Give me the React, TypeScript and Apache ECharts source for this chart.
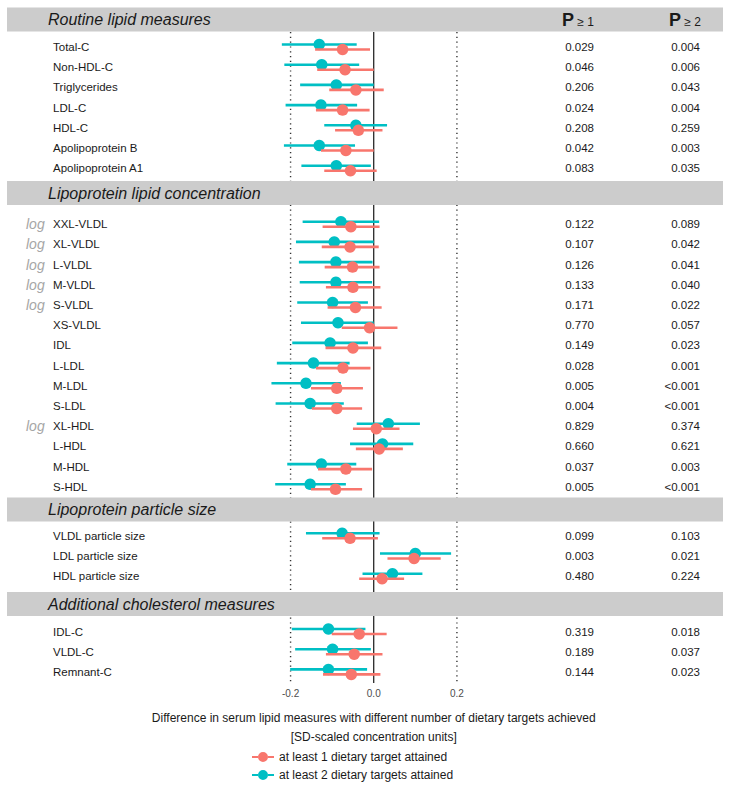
import React, { useEffect, useRef } from "react";
import * as echarts from "echarts";

// ---------- DATA ----------
const sectionTitles = [
  "Routine lipid measures",
  "Lipoprotein lipid concentration",
  "Lipoprotein particle size",
  "Additional cholesterol measures",
];
const seriesNames = ["at least 1 dietary target attained", "at least 2 dietary targets attained"];

// Routine lipid measures
const routineNames = ["Total-C", "Non-HDL-C", "Triglycerides", "LDL-C", "HDL-C", "Apolipoprotein B", "Apolipoprotein A1"];
const routineLog = [0, 0, 0, 0, 0, 0, 0];
const routineEst1 = [-0.075, -0.069, -0.043, -0.075, -0.037, -0.067, -0.056];
const routineLo1 = [-0.141, -0.136, -0.107, -0.139, -0.093, -0.127, -0.119];
const routineHi1 = [-0.009, 0.0, 0.024, -0.01, 0.021, 0.0, 0.007];
const routineEst2 = [-0.131, -0.125, -0.09, -0.127, -0.043, -0.131, -0.09];
const routineLo2 = [-0.221, -0.215, -0.177, -0.212, -0.119, -0.216, -0.174];
const routineHi2 = [-0.041, -0.035, 0.0, -0.04, 0.032, -0.045, -0.007];
const routineP1 = ["0.029", "0.046", "0.206", "0.024", "0.208", "0.042", "0.083"];
const routineP2 = ["0.004", "0.006", "0.043", "0.004", "0.259", "0.003", "0.035"];

// Lipoprotein lipid concentration
const lipoNames = ["XXL-VLDL", "XL-VLDL", "L-VLDL", "M-VLDL", "S-VLDL", "XS-VLDL", "IDL", "L-LDL", "M-LDL", "S-LDL", "XL-HDL", "L-HDL", "M-HDL", "S-HDL"];
const lipoLog = [1, 1, 1, 1, 1, 0, 0, 0, 0, 0, 1, 0, 0, 0];
const lipoEst1 = [-0.055, -0.057, -0.051, -0.05, -0.044, -0.01, -0.05, -0.074, -0.089, -0.089, 0.006, 0.013, -0.067, -0.092];
const lipoLo1 = [-0.123, -0.125, -0.118, -0.115, -0.111, -0.077, -0.116, -0.139, -0.151, -0.149, -0.05, -0.043, -0.134, -0.151];
const lipoHi1 = [0.014, 0.012, 0.014, 0.016, 0.019, 0.057, 0.018, -0.008, -0.026, -0.028, 0.062, 0.07, -0.004, -0.028];
const lipoEst2 = [-0.079, -0.095, -0.091, -0.091, -0.099, -0.086, -0.105, -0.145, -0.163, -0.153, 0.035, 0.021, -0.126, -0.153];
const lipoLo2 = [-0.171, -0.187, -0.18, -0.178, -0.184, -0.175, -0.196, -0.233, -0.246, -0.236, -0.041, -0.057, -0.208, -0.237];
const lipoHi2 = [0.013, 0.0, -0.003, -0.004, -0.014, 0.0, -0.014, -0.058, -0.079, -0.072, 0.111, 0.095, -0.042, -0.067];
const lipoP1 = ["0.122", "0.107", "0.126", "0.133", "0.171", "0.770", "0.149", "0.028", "0.005", "0.004", "0.829", "0.660", "0.037", "0.005"];
const lipoP2 = ["0.089", "0.042", "0.041", "0.040", "0.022", "0.057", "0.023", "0.001", "<0.001", "<0.001", "0.374", "0.621", "0.003", "<0.001"];

// Lipoprotein particle size
const sizeNames = ["VLDL particle size", "LDL particle size", "HDL particle size"];
const sizeLog = [0, 0, 0];
const sizeEst1 = [-0.057, 0.097, 0.02];
const sizeLo1 = [-0.124, 0.033, -0.035];
const sizeHi1 = [0.01, 0.161, 0.073];
const sizeEst2 = [-0.076, 0.1, 0.045];
const sizeLo2 = [-0.163, 0.015, -0.027];
const sizeHi2 = [0.014, 0.186, 0.117];
const sizeP1 = ["0.099", "0.003", "0.480"];
const sizeP2 = ["0.103", "0.021", "0.224"];

// Additional cholesterol measures
const addNames = ["IDL-C", "VLDL-C", "Remnant-C"];
const addLog = [0, 0, 0];
const addEst1 = [-0.035, -0.047, -0.054];
const addLo1 = [-0.101, -0.115, -0.122];
const addHi1 = [0.031, 0.021, 0.016];
const addEst2 = [-0.109, -0.099, -0.109];
const addLo2 = [-0.197, -0.189, -0.201];
const addHi2 = [-0.02, -0.007, -0.016];
const addP1 = ["0.319", "0.189", "0.144"];
const addP2 = ["0.018", "0.037", "0.023"];

const referenceLines = [-0.2, 0, 0.2];
const xTickLabels = ["-0.2", "0.0", "0.2"];

// ---------- LAYOUT ----------
const FONT = "'Liberation Sans', Arial, Helvetica, sans-serif";
const C1 = "#F8766D";
const C2 = "#00BFC4";
const XMIN = -0.4;
const XMAX = 0.4;
const GRID_LEFT = 207.4;
const GRID_RIGHT = 191.9;
const ROW = 20.2;
const firstRowY = [47, 224.2, 535.8, 631.5];
const bandY = [7.5, 181, 497.5, 592];
const BAND_H = 24;

const sections = [
  { names: routineNames, log: routineLog, e1: routineEst1, l1: routineLo1, h1: routineHi1, e2: routineEst2, l2: routineLo2, h2: routineHi2, p1: routineP1, p2: routineP2 },
  { names: lipoNames, log: lipoLog, e1: lipoEst1, l1: lipoLo1, h1: lipoHi1, e2: lipoEst2, l2: lipoLo2, h2: lipoHi2, p1: lipoP1, p2: lipoP2 },
  { names: sizeNames, log: sizeLog, e1: sizeEst1, l1: sizeLo1, h1: sizeHi1, e2: sizeEst2, l2: sizeLo2, h2: sizeHi2, p1: sizeP1, p2: sizeP2 },
  { names: addNames, log: addLog, e1: addEst1, l1: addLo1, h1: addHi1, e2: addEst2, l2: addLo2, h2: addHi2, p1: addP1, p2: addP2 },
];

const LEGEND_ICON =
  "path://M0,5L6,5L6,7L0,7Z M16,5L22,5L22,7L16,7Z M6,6A5,5,0,1,0,16,6A5,5,0,1,0,6,6Z";

function buildOption() {
  const grids: any[] = [];
  const xAxes: any[] = [];
  const yAxes: any[] = [];
  const series: any[] = [];

  const axisOff = { axisLine: { show: false }, axisTick: { show: false }, splitLine: { show: false } };

  sections.forEach((s, k) => {
    const n = s.names.length;
    grids.push({ left: GRID_LEFT, right: GRID_RIGHT, top: firstRowY[k] - ROW / 2, height: n * ROW });
    xAxes.push({ gridIndex: k, type: "value", min: XMIN, max: XMAX, show: false });
    const base = k * 4;
    const cat = { gridIndex: k, type: "category", data: s.names, inverse: true, ...axisOff };
    yAxes.push({
      ...cat,
      position: "left",
      axisLabel: { interval: 0, align: "left", margin: GRID_LEFT - 53, fontSize: 11.5, color: "#1a1a1a", fontFamily: FONT },
    });
    yAxes.push({
      ...cat,
      position: "left",
      axisLabel: {
        interval: 0,
        align: "left",
        margin: GRID_LEFT - 26,
        fontSize: 14,
        fontStyle: "italic",
        color: "#a6a6a6",
        fontFamily: FONT,
        formatter: (_v: string, i: number) => (s.log[i] ? "log" : ""),
      },
    });
    yAxes.push({
      ...cat,
      position: "right",
      axisLabel: {
        interval: 0,
        align: "right",
        margin: 594 - (732 - GRID_RIGHT),
        fontSize: 11.5,
        color: "#1a1a1a",
        fontFamily: FONT,
        formatter: (_v: string, i: number) => s.p1[i],
      },
    });
    yAxes.push({
      ...cat,
      position: "right",
      axisLabel: {
        interval: 0,
        align: "right",
        margin: 700 - (732 - GRID_RIGHT),
        fontSize: 11.5,
        color: "#1a1a1a",
        fontFamily: FONT,
        formatter: (_v: string, i: number) => s.p2[i],
      },
    });

    const groups = [
      { name: seriesNames[1], color: C2, est: s.e2, lo: s.l2, hi: s.h2, dy: -2.5, z: 3 },
      { name: seriesNames[0], color: C1, est: s.e1, lo: s.l1, hi: s.h1, dy: 2.5, z: 5 },
    ];
    groups.forEach((g) => {
      series.push({
        type: "scatter",
        name: g.name,
        xAxisIndex: k,
        yAxisIndex: base,
        data: g.est.map((v, i) => [v, i]),
        symbol: "circle",
        symbolSize: 11.5,
        symbolOffset: [0, g.dy],
        itemStyle: { color: g.color, opacity: 1 },
        z: g.z + 1,
        silent: true,
      });
      series.push({
        type: "custom",
        name: g.name,
        xAxisIndex: k,
        yAxisIndex: base,
        data: g.lo.map((v, i) => [v, g.hi[i], i]),
        encode: { x: [0, 1], y: 2 },
        itemStyle: { color: g.color },
        z: g.z,
        silent: true,
        renderItem: (_p: any, api: any) => {
          const idx = api.value(2);
          const a = api.coord([api.value(0), idx]);
          const b = api.coord([api.value(1), idx]);
          return {
            type: "line",
            shape: { x1: a[0], y1: a[1] + g.dy, x2: b[0], y2: b[1] + g.dy },
            style: { stroke: g.color, lineWidth: 2.6 },
          };
        },
      });
    });
  });

  // reference-line grid
  grids.push({ left: GRID_LEFT, right: GRID_RIGHT, top: 32, bottom: 790 - 683 });
  xAxes.push({
    gridIndex: 4,
    type: "value",
    min: XMIN,
    max: XMAX,
    interval: 0.2,
    ...axisOff,
    axisLabel: {
      margin: 5,
      fontSize: 10,
      color: "#4d4d4d",
      fontFamily: FONT,
      formatter: (v: number) => {
        const i = referenceLines.findIndex((r) => Math.abs(r - v) < 1e-9);
        return i >= 0 ? xTickLabels[i] : "";
      },
    },
    name: "Difference in serum lipid measures with different number of dietary targets achieved\n[SD-scaled concentration units]",
    nameLocation: "middle",
    nameGap: 25.5,
    nameTextStyle: { fontSize: 12, lineHeight: 19, color: "#1a1a1a", fontFamily: FONT },
  });
  yAxes.push({ gridIndex: 4, type: "value", min: 0, max: 1, show: false });
  series.push({
    type: "custom",
    xAxisIndex: 4,
    yAxisIndex: yAxes.length - 1,
    data: referenceLines.map((v) => [v]),
    encode: { x: 0 },
    z: 1,
    silent: true,
    renderItem: (_p: any, api: any) => {
      const v = api.value(0);
      const a = api.coord([v, 1]);
      const b = api.coord([v, 0]);
      const solid = Math.abs(v) < 1e-9;
      return {
        type: "line",
        shape: { x1: a[0], y1: a[1], x2: b[0], y2: b[1] },
        style: solid
          ? { stroke: "#000", lineWidth: 1.1 }
          : { stroke: "#333", lineWidth: 1.4, lineDash: [1.2, 3.6] },
      };
    },
  });

  const graphic: any[] = [];
  bandY.forEach((y, k) => {
    graphic.push({ type: "rect", z: 100, shape: { x: 7, y, width: 716, height: BAND_H }, style: { fill: "#cccccc" } });
    graphic.push({
      type: "text",
      z: 101,
      x: 48,
      y: y + BAND_H / 2,
      style: { text: sectionTitles[k], fontSize: 16, fontStyle: "italic", fill: "#1a1a1a", fontFamily: FONT, verticalAlign: "middle", align: "left" },
    });
  });
  [
    { x: 562, t: "1" },
    { x: 669, t: "2" },
  ].forEach((h) => {
    graphic.push({
      type: "text",
      z: 101,
      x: h.x,
      y: 20,
      style: {
        text: `{p|P}{s| ≥ ${h.t}}`,
        verticalAlign: "middle",
        fontFamily: FONT,
        rich: {
          p: { fontSize: 18, fontWeight: "bold", fill: "#1a1a1a", fontFamily: FONT, verticalAlign: "bottom" },
          s: { fontSize: 12, fill: "#1a1a1a", fontFamily: FONT, padding: [4, 0, 0, 0] },
        },
      },
    });
  });

  return {
    animation: false,
    backgroundColor: "#ffffff",
    grid: grids,
    xAxis: xAxes,
    yAxis: yAxes,
    series,
    graphic,
    legend: {
      orient: "vertical",
      left: 252,
      top: 751,
      height: 36,
      padding: 0,
      itemWidth: 22,
      itemHeight: 12,
      itemGap: 6,
      selectedMode: false,
      textStyle: { fontSize: 12, lineHeight: 12, color: "#1a1a1a", fontFamily: FONT },
      data: [
        { name: seriesNames[0], icon: LEGEND_ICON },
        { name: seriesNames[1], icon: LEGEND_ICON },
      ],
    },
  };
}

export default function App() {
  const ref = useRef<HTMLDivElement>(null);
  useEffect(() => {
    if (!ref.current) return;
    const chart = echarts.init(ref.current, null, { renderer: "svg" });
    chart.setOption(buildOption() as any);
    return () => chart.dispose();
  }, []);
  return <div ref={ref} style={{ position: "absolute", left: 0, top: 0, width: 732, height: 790, background: "#fff" }} />;
}
